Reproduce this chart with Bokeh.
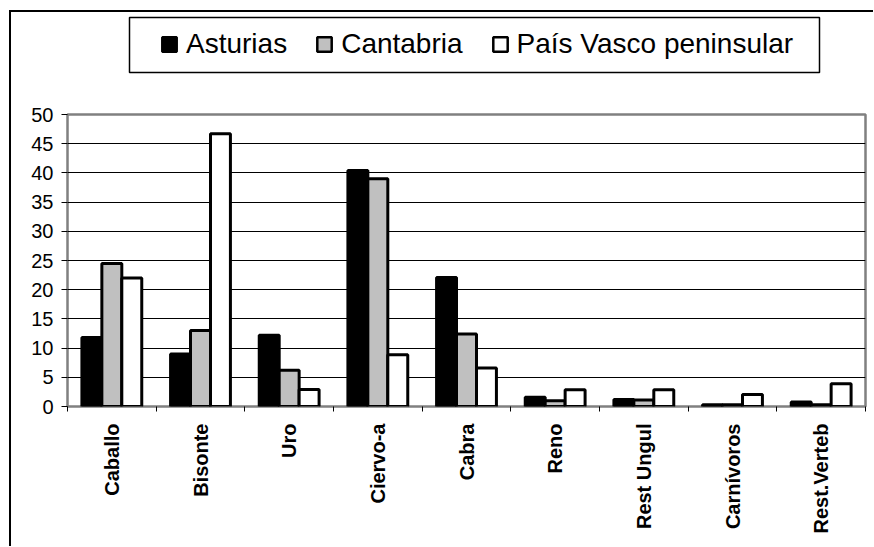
import numpy as np
from bokeh.plotting import figure
from bokeh.layouts import column
from bokeh.models import (ColumnDataSource, FixedTicker, Legend, LegendItem,
                          BoxAnnotation, Range1d)
from bokeh.transform import dodge
from bokeh.embed import file_html
from bokeh.resources import INLINE

categories = ["Caballo", "Bisonte", "Uro", "Ciervo-a", "Cabra", "Reno",
              "Rest Ungul", "Carnívoros", "Rest.Verteb"]
asturias = [11.8, 9.0, 12.2, 40.4, 22.1, 1.6, 1.2, 0.3, 0.75]
cantabria = [24.5, 13.0, 6.2, 39.0, 12.4, 1.0, 1.1, 0.3, 0.3]
pais_vasco = [22.0, 46.7, 2.9, 8.85, 6.6, 2.85, 2.85, 2.05, 3.9]
series_names = ["Asturias", "Cantabria", "País Vasco peninsular"]
series_colors = ["#000000", "#C0C0C0", "#FFFFFF"]
y_ticks = [0, 5, 10, 15, 20, 25, 30, 35, 40, 45, 50]

xs = list(range(len(categories)))
source = ColumnDataSource(data=dict(x=xs, cat=categories, a=asturias,
                                    c=cantabria, p=pais_vasco))

W = 862
# ---------- main chart ----------
p = figure(width=W, height=444, x_range=Range1d(-0.5, len(categories) - 0.5),
           y_range=Range1d(0, 50), output_backend="svg", toolbar_location=None,
           min_border_left=56, min_border_right=8, min_border_top=12,
           min_border_bottom=140)
p.background_fill_color = "white"
p.border_fill_color = "white"
p.outline_line_color = "#808080"
p.outline_line_width = 2.5

p.xgrid.visible = False
p.ygrid.ticker = FixedTicker(ticks=y_ticks[1:-1])
p.ygrid.grid_line_color = "black"
p.ygrid.grid_line_width = 1

yax = p.yaxis[0]
yax.ticker = FixedTicker(ticks=y_ticks)
yax.axis_line_color = None
yax.major_tick_out = 6
yax.major_tick_in = 0
yax.minor_tick_out = 0
yax.minor_tick_in = 0
yax.major_tick_line_color = "black"
yax.major_label_text_font = "Liberation Sans"
yax.major_label_text_font_size = "20px"
yax.major_label_text_color = "black"
yax.major_label_standoff = 8

xax = p.xaxis[0]
xax.ticker = FixedTicker(ticks=xs, minor_ticks=[i - 0.5 for i in range(len(categories) + 1)])
xax.major_label_overrides = {i: c for i, c in zip(xs, categories)}
xax.major_label_orientation = np.pi / 2
xax.axis_line_color = None
xax.major_tick_out = 0
xax.major_tick_in = 0
xax.minor_tick_out = 5
xax.minor_tick_in = 0
xax.minor_tick_line_color = "black"
xax.major_label_text_font = "Liberation Sans"
xax.major_label_text_font_style = "bold"
xax.major_label_text_font_size = "20px"
xax.major_label_text_color = "black"
xax.major_label_standoff = 12

bw = 0.225
cols = ["a", "c", "p"]
for col, off, color in zip(cols, [-bw, 0, bw], series_colors):
    p.vbar(x=dodge("x", off, range=p.x_range), top=col, width=bw, bottom=0,
           source=source, fill_color=color, line_color="black", line_width=3)

# ---------- legend strip ----------
# key glyphs use the same series styles; the renderers themselves are hidden
top = figure(width=W, height=90, x_range=Range1d(-0.5, len(categories) - 0.5),
             y_range=Range1d(1000, 1001),
             x_axis_type=None, y_axis_type=None, output_backend="svg",
             toolbar_location=None, min_border=0)
top.outline_line_color = None
top.background_fill_color = "white"
top.border_fill_color = "white"
key_renderers = []
for col, color in zip(cols, series_colors):
    key_renderers.append(top.vbar(x="x", top=col, bottom=0, width=bw, source=source,
                                  fill_color=color, line_color="black", line_width=2.5,
                                  visible=False))

legend = Legend(items=[LegendItem(label=n, renderers=[r]) for n, r in zip(series_names, key_renderers)],
                orientation="horizontal", location=(93, 42),
                glyph_width=18, glyph_height=18, label_standoff=8, spacing=28,
                padding=0, margin=0, border_line_color=None, background_fill_alpha=0,
                inactive_fill_alpha=0,
                label_text_font="Liberation Sans", label_text_font_size="28px",
                label_text_color="black")
top.add_layout(legend)

legend_box = BoxAnnotation(left=118, right=808, top=5, bottom=60,
                           left_units="canvas", right_units="canvas",
                           top_units="canvas", bottom_units="canvas",
                           fill_alpha=0, line_color="black", line_alpha=1.0,
                           line_width=1.5)
top.add_layout(legend_box)

layout = column(top, p, spacing=0,
                styles={"margin-left": "9px", "margin-top": "10px",
                        "border-left": "2px solid black", "border-top": "2px solid black"})

open("out.html", "w").write(file_html(layout, INLINE))
